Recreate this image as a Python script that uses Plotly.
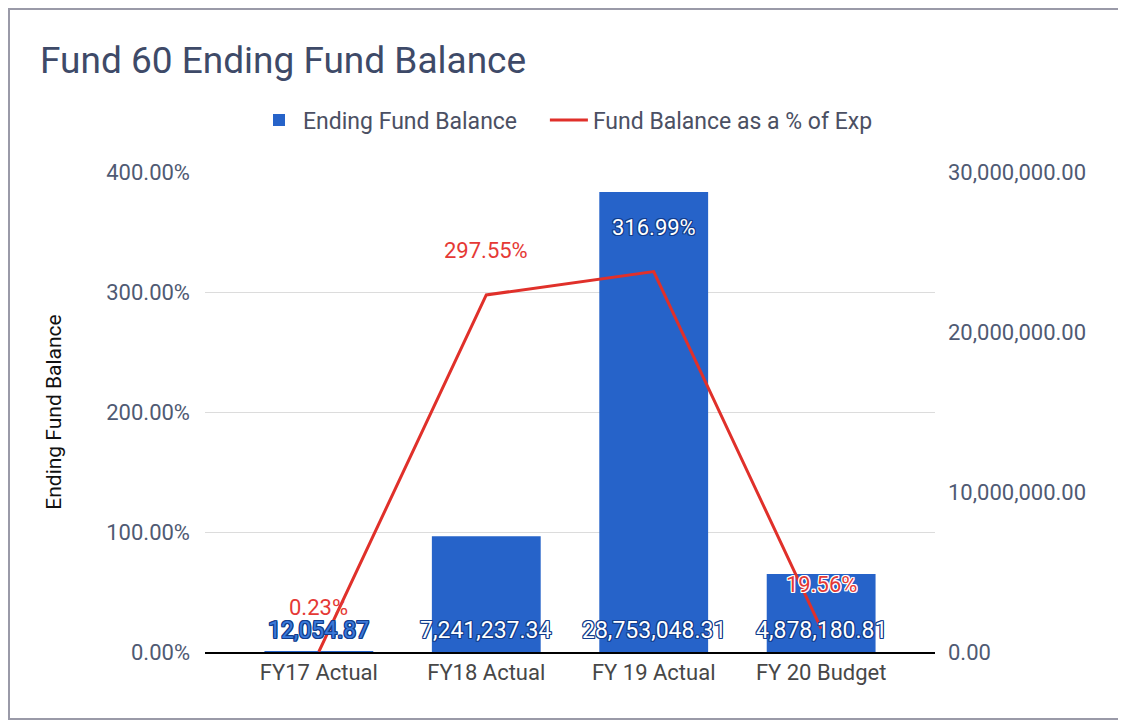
import plotly.graph_objects as go

categories = ["FY17 Actual", "FY18 Actual", "FY 19 Actual", "FY 20 Budget"]
balance = [12054.87, 7241237.34, 28753048.31, 4878180.81]
pct_of_exp = [0.23, 297.55, 316.99, 19.56]
pct_ticks = [0, 100, 200, 300, 400]
balance_ticks = [0, 10000000, 20000000, 30000000]

NAVY = "#123d8c"
def ring(c, w=1):
    return ", ".join(f"{dx}px {dy}px 0 {c}" for dx, dy in
                     [(w, 0), (-w, 0), (0, w), (0, -w), (w, w), (-w, -w), (w, -w), (-w, w)])

pct_font_colors = ["#e53935", "#e53935", "#ffffff", "#e53935"]
pct_shadows = ["none", "none", ring(NAVY), ring("#ffffff")]
bal_font_colors = ["#3a78d8", "#ffffff", "#ffffff", "#ffffff"]

BLUE = "#2663c9"
RED = "#e0302a"
FONT = "Roboto"
PAD = "\u00a0" * 4

# page has an 8px body margin; layout numbers below are in figure coordinates
L, R, T, B = 197, 199, 164, 80
PW, PH = 1126 - L - R, 724 - T - B

fig = go.Figure()
fig.add_trace(go.Bar(
    x=categories, y=balance, name="Ending Fund Balance" + PAD,
    marker=dict(color=BLUE, line=dict(width=0)), width=0.65, yaxis="y",
))
fig.add_trace(go.Scatter(
    x=categories, y=pct_of_exp, name="Fund Balance as a % of Exp",
    mode="lines", line=dict(color=RED, width=3), yaxis="y2",
))

annotations = []
for c, v, col in zip(categories, balance, bal_font_colors):
    annotations.append(dict(
        x=c, y=0, xref="x", yref="y", text=f"{v:,.2f}", showarrow=False,
        yanchor="middle", yshift=22,
        font=dict(family=FONT, size=23, color=col, shadow=ring(NAVY)),
    ))
for c, v, col, sh in zip(categories, pct_of_exp, pct_font_colors, pct_shadows):
    annotations.append(dict(
        x=c, y=v, xref="x", yref="y2", text=f"{v:.2f}%", showarrow=False,
        yanchor="middle", yshift=44,
        font=dict(family=FONT, size=22, color=col, shadow=sh),
    ))

fig.update_layout(
    width=1126, height=724,
    margin=dict(l=L, r=R, t=T, b=B),
    paper_bgcolor="white", plot_bgcolor="white",
    font=dict(family=FONT, color="#4f5a73"),
    title=dict(text="Fund 60 Ending Fund Balance", x=32 / 1126, xref="container", xanchor="left",
               y=1 - 52 / 724, yref="container", yanchor="middle",
               font=dict(family=FONT, size=37, color="#3e4a68")),
    legend=dict(orientation="h", xref="container", x=247 / 1126, xanchor="left",
                yref="container", y=1 - 112 / 724, yanchor="middle",
                font=dict(family=FONT, size=23, color="#4b5063"), itemwidth=38,
                traceorder="normal"),
    showlegend=True,
    xaxis=dict(type="category", range=[-0.68, 3.68], showline=True, linecolor="black",
               linewidth=2, showgrid=False, ticks="",
               tickfont=dict(family=FONT, size=22, color="#474747")),
    yaxis=dict(side="right", range=[0, 30000000], tickvals=balance_ticks,
               tickformat=",.2f", showgrid=False, zeroline=False, ticks="",
               ticklabelstandoff=12,
               tickfont=dict(family=FONT, size=22, color="#4f5a73")),
    yaxis2=dict(side="left", overlaying="y", range=[0, 400], tickvals=pct_ticks,
                ticktext=[f"{v:.2f}%" for v in pct_ticks],
                showgrid=True, gridcolor="#dcdcdc", gridwidth=1,
                zeroline=False, ticks="", ticklabelstandoff=14,
                tickfont=dict(family=FONT, size=22, color="#4f5a73"),
                title=dict(text="Ending Fund Balance", standoff=38,
                           font=dict(family=FONT, size=21, color="#111111"))),
    annotations=annotations,
    shapes=[dict(type="rect", xref="paper", yref="paper",
                 x0=(1 - L) / PW, x1=(1114 - L) / PW,
                 y0=(T + PH - 711) / PH, y1=(T + PH - 1) / PH,
                 line=dict(color="#9a9aa8", width=2), fillcolor="rgba(0,0,0,0)", layer="below")],
)

fig.write_html("out.html")
